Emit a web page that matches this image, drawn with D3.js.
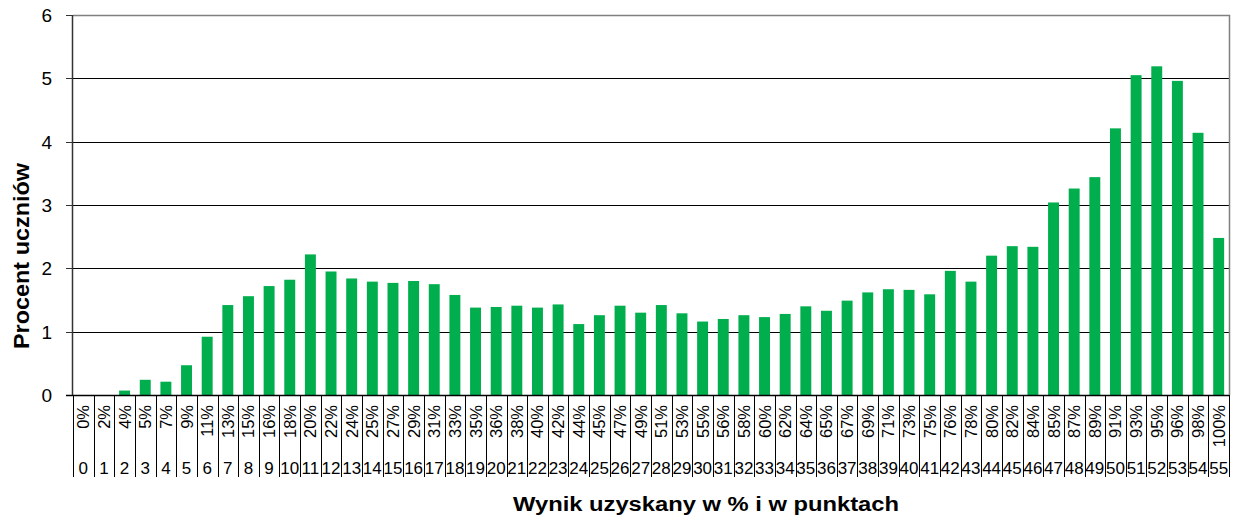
<!DOCTYPE html>
<html><head><meta charset="utf-8">
<script src="https://cdn.jsdelivr.net/npm/d3@7"></script>
<style>
html,body{margin:0;padding:0;background:#fff;}
svg{display:block;font-family:"Liberation Sans",Arial,sans-serif;}
</style></head>
<body><svg id="c" width="1236" height="519"></svg>
<script>
const points = d3.range(0, 56);
const percentLabels = ["0%","2%","4%","5%","7%","9%","11%","13%","15%","16%","18%","20%","22%","24%","25%","27%","29%","31%","33%","35%","36%","38%","40%","42%","44%","45%","47%","49%","51%","53%","55%","56%","58%","60%","62%","64%","65%","67%","69%","71%","73%","75%","76%","78%","80%","82%","84%","85%","87%","89%","91%","93%","95%","96%","98%","100%"];
const values = [0,0,0.07,0.24,0.21,0.47,0.92,1.42,1.56,1.72,1.82,2.22,1.95,1.84,1.79,1.77,1.80,1.75,1.58,1.38,
1.39,1.41,1.38,1.43,1.12,1.26,1.41,1.30,1.42,1.29,1.16,1.20,1.26,1.23,1.28,1.40,1.33,1.49,1.62,1.67,
1.66,1.59,1.96,1.79,2.20,2.35,2.34,3.04,3.26,3.44,4.21,5.05,5.19,4.96,4.14,2.48];
const yTicks = [0,1,2,3,4,5,6];

const svg = d3.select("#c");
const L = 73, R = 1229, T = 15, B = 395;
const x = d3.scaleBand().domain(points).range([L, R]).paddingInner(0.47).paddingOuter(0.235);
const xb = d3.scaleBand().domain(points).range([L, R]);
const y = d3.scaleLinear().domain([0, 6]).range([B, T]);

// gridlines
svg.append("g").selectAll("line").data(yTicks.filter(d => d > 0 && d < 6)).join("line")
  .attr("x1", L).attr("x2", R).attr("y1", d => Math.round(y(d)) + 0.5).attr("y2", d => Math.round(y(d)) + 0.5)
  .attr("stroke", "#000").attr("stroke-width", 1);
// top and right border
svg.append("path").attr("d", `M${L},${T + 0.5}H${R + 0.5}V${B}`).attr("fill", "none").attr("stroke", "#808080").attr("stroke-width", 1.5);

// bars
svg.append("g").selectAll("rect").data(values).join("rect")
  .attr("x", (d, i) => x(points[i])).attr("width", x.bandwidth())
  .attr("y", d => y(d)).attr("height", d => B - y(d))
  .attr("fill", "#00AE4D");

// y axis
svg.append("line").attr("x1", L - 0.5).attr("x2", L - 0.5).attr("y1", T).attr("y2", B + 1).attr("stroke", "#333").attr("stroke-width", 1.5);
svg.append("g").selectAll("line").data(yTicks).join("line")
  .attr("x1", L - 7).attr("x2", L).attr("y1", d => Math.round(y(d)) + 0.5).attr("y2", d => Math.round(y(d)) + 0.5)
  .attr("stroke", "#333").attr("stroke-width", 1);
svg.append("g").selectAll("text").data(yTicks).join("text")
  .attr("x", 52).attr("y", d => y(d) + 7).attr("text-anchor", "end")
  .attr("font-size", 19).attr("fill", "#000").text(d => d);

// x axis baseline
svg.append("line").attr("x1", L - 7).attr("x2", R).attr("y1", B + 0.5).attr("y2", B + 0.5).attr("stroke", "#000").attr("stroke-width", 1.5);
// category separators
const seps = points.concat([56]);
svg.append("g").selectAll("line").data(seps).join("line")
  .attr("x1", d => Math.round(d < 56 ? xb(d) : R) + 0.5).attr("x2", d => Math.round(d < 56 ? xb(d) : R) + 0.5)
  .attr("y1", B).attr("y2", 477).attr("stroke", "#000").attr("stroke-width", 1);

// percent labels (rotated)
svg.append("g").selectAll("text").data(percentLabels).join("text")
  .attr("transform", (d, i) => `translate(${xb(points[i]) + xb.bandwidth() / 2 + 6},405) rotate(-90)`)
  .attr("text-anchor", "end").attr("font-size", 16.5).attr("fill", "#000").text(d => d);
// point labels
svg.append("g").selectAll("text").data(points).join("text")
  .attr("x", d => xb(d) + xb.bandwidth() / 2).attr("y", 473.5).attr("text-anchor", "middle")
  .attr("font-size", 17).attr("fill", "#000").text(d => d);

// axis titles
svg.append("text").attr("x", 706).attr("y", 511).attr("text-anchor", "middle")
  .attr("font-size", 20).attr("font-weight", "bold").attr("textLength", 386).attr("lengthAdjust", "spacingAndGlyphs")
  .text("Wynik uzyskany w % i w punktach");
svg.append("text").attr("transform", "translate(29,256) rotate(-90)").attr("text-anchor", "middle")
  .attr("font-size", 22).attr("font-weight", "bold").attr("textLength", 186).attr("lengthAdjust", "spacingAndGlyphs")
  .text("Procent uczniów");
</script></body></html>
